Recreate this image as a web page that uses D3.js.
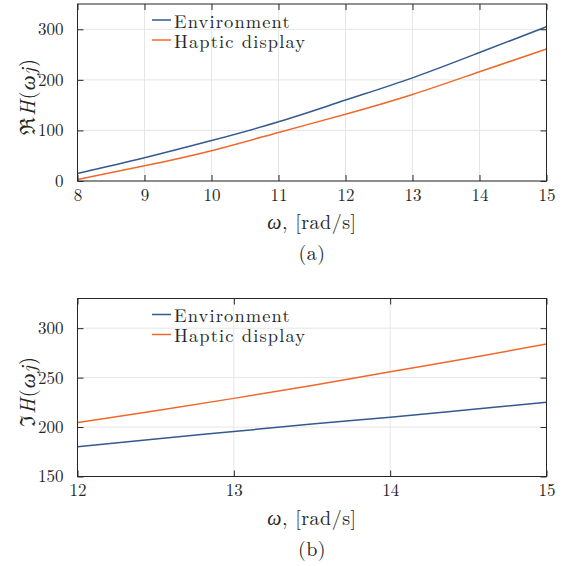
<!DOCTYPE html>
<html>
<head>
<meta charset="utf-8">
<script src="https://cdn.jsdelivr.net/npm/d3@7"></script>
<style>
  body { margin: 0; background: #fff; }
  svg text { font-family: "Latin Modern Roman", "CMU Serif", "Liberation Serif", "DejaVu Serif", serif; fill: #262626; }
</style>
</head>
<body>
<script>
// data
const seriesNames = ['Environment', 'Haptic display'];
const seriesColors = ['#34598f', '#f0682a'];

const omegaA = [8, 9, 10, 11, 12, 13, 14, 15];
const realEnv = [15, 46, 80, 117, 160, 204, 254, 305];
const realHaptic = [3, 30, 60, 96, 132, 171, 216, 261];
const xTicksA = [8, 9, 10, 11, 12, 13, 14, 15];
const yTicksA = [0, 100, 200, 300];

const omegaB = [12, 12.5, 13, 13.5, 14, 14.5, 15];
const imagEnv = [180, 188, 195.5, 203, 210, 217.5, 225];
const imagHaptic = [204.5, 216.5, 229, 242, 256, 269.5, 284];
const xTicksB = [12, 13, 14, 15];
const yTicksB = [150, 200, 250, 300];

const W = 562;
const H = 566;
const svg = d3.select('body').append('svg')
  .attr('width', W)
  .attr('height', H);

// draws one panel (box, grid, ticks, two lines, legend, labels)
function panel(opts) {
  const { left, right, top, bottom } = opts;
  const x = d3.scaleLinear().domain(opts.xDomain).range([left, right]);
  const y = d3.scaleLinear().domain(opts.yDomain).range([bottom, top]);
  const g = svg.append('g');

  // grid
  g.selectAll('.gx').data(opts.xTicks).enter().append('line')
    .attr('x1', d => x(d)).attr('x2', d => x(d))
    .attr('y1', top).attr('y2', bottom)
    .attr('stroke', '#e6e6e6').attr('stroke-width', 1);
  g.selectAll('.gy').data(opts.yTicks).enter().append('line')
    .attr('x1', left).attr('x2', right)
    .attr('y1', d => y(d)).attr('y2', d => y(d))
    .attr('stroke', '#e6e6e6').attr('stroke-width', 1);

  // curves
  const line = d3.line()
    .x(d => x(d[0]))
    .y(d => y(d[1]))
    .curve(d3.curveNatural);
  opts.series.forEach((vals, i) => {
    g.append('path')
      .datum(opts.xs.map((v, k) => [v, vals[k]]))
      .attr('fill', 'none')
      .attr('stroke', seriesColors[i])
      .attr('stroke-width', 1.5)
      .attr('d', line);
  });

  // axes, ticks inward, box on all sides
  const tickLen = 6;
  const fmt = d3.format('d');
  const axB = g.append('g').attr('transform', `translate(0,${bottom})`)
    .call(d3.axisBottom(x).tickValues(opts.xTicks).tickFormat(fmt)
      .tickSizeInner(-tickLen).tickSizeOuter(0).tickPadding(9));
  const axT = g.append('g').attr('transform', `translate(0,${top})`)
    .call(d3.axisTop(x).tickValues(opts.xTicks).tickSizeInner(-tickLen).tickSizeOuter(0).tickFormat(''));
  const axL = g.append('g').attr('transform', `translate(${left},0)`)
    .call(d3.axisLeft(y).tickValues(opts.yTicks).tickFormat(fmt)
      .tickSizeInner(-tickLen).tickSizeOuter(0).tickPadding(14));
  const axR = g.append('g').attr('transform', `translate(${right},0)`)
    .call(d3.axisRight(y).tickValues(opts.yTicks).tickSizeInner(-tickLen).tickSizeOuter(0).tickFormat(''));
  [axB, axT, axL, axR].forEach((a) => {
    a.select('.domain').remove();
    a.selectAll('line').attr('stroke', '#262626');
    a.selectAll('text').style('font-size', '17px').attr('fill', '#262626');
  });
  axB.selectAll('text').attr('dy', '0.62em');
  g.append('rect')
    .attr('x', left).attr('y', top)
    .attr('width', right - left).attr('height', bottom - top)
    .attr('fill', 'none').attr('stroke', '#262626').attr('stroke-width', 1);

  // legend: swatches plus one two-line text block
  const legendGap = 20;
  seriesNames.forEach((name, i) => {
    const ly = top + 16 + i * legendGap;
    g.append('line')
      .attr('x1', 152).attr('x2', 171)
      .attr('y1', ly).attr('y2', ly)
      .attr('stroke', seriesColors[i]).attr('stroke-width', 1.5);
  });
  g.append('text')
    .style('font-size', '18.5px')
    .style('letter-spacing', '1.1px')
    .selectAll('tspan')
    .data(seriesNames)
    .enter()
    .append('tspan')
    .attr('x', 174)
    .attr('y', (d, i) => top + 23.5 + i * legendGap)
    .text(d => d);

  // y label
  const yl = g.append('text')
    .attr('transform', `translate(${opts.yLabelX},${(top + bottom) / 2 + 4}) rotate(-90)`)
    .attr('text-anchor', 'middle')
    .style('font-size', '21px')
    .style('letter-spacing', '1px');
  yl.append('tspan').text(opts.yLabelSym);
  yl.append('tspan').style('font-style', 'italic').text('H');
  yl.append('tspan').text('(');
  yl.append('tspan').style('font-style', 'italic').text('ωj');
  yl.append('tspan').text(')');

  // x label and caption
  const xl = g.append('text')
    .attr('x', (left + right) / 2).attr('y', opts.xLabelY)
    .attr('text-anchor', 'middle')
    .style('font-size', '20px')
    .style('letter-spacing', '0.5px');
  xl.append('tspan').style('font-style', 'italic').text('ω');
  xl.append('tspan').text(', [rad/s]');
  g.append('text')
    .attr('x', (left + right) / 2).attr('y', opts.captionY)
    .attr('text-anchor', 'middle')
    .style('font-size', '20px')
    .style('letter-spacing', '0.5px')
    .text(opts.caption);
}

panel({
  left: 77.5, right: 546.5, top: 4, bottom: 181,
  xDomain: [8, 15], yDomain: [0, 350],
  xTicks: xTicksA, yTicks: yTicksA,
  xs: omegaA, series: [realEnv, realHaptic],
  yLabelSym: 'ℜ', yLabelX: 35,
  xLabelY: 229, captionY: 260, caption: '(a)',
});

panel({
  left: 77.5, right: 546.5, top: 298.5, bottom: 476.5,
  xDomain: [12, 15], yDomain: [150, 330],
  xTicks: xTicksB, yTicks: yTicksB,
  xs: omegaB, series: [imagEnv, imagHaptic],
  yLabelSym: 'ℑ', yLabelX: 35,
  xLabelY: 525, captionY: 556, caption: '(b)',
});
</script>
</body>
</html>
